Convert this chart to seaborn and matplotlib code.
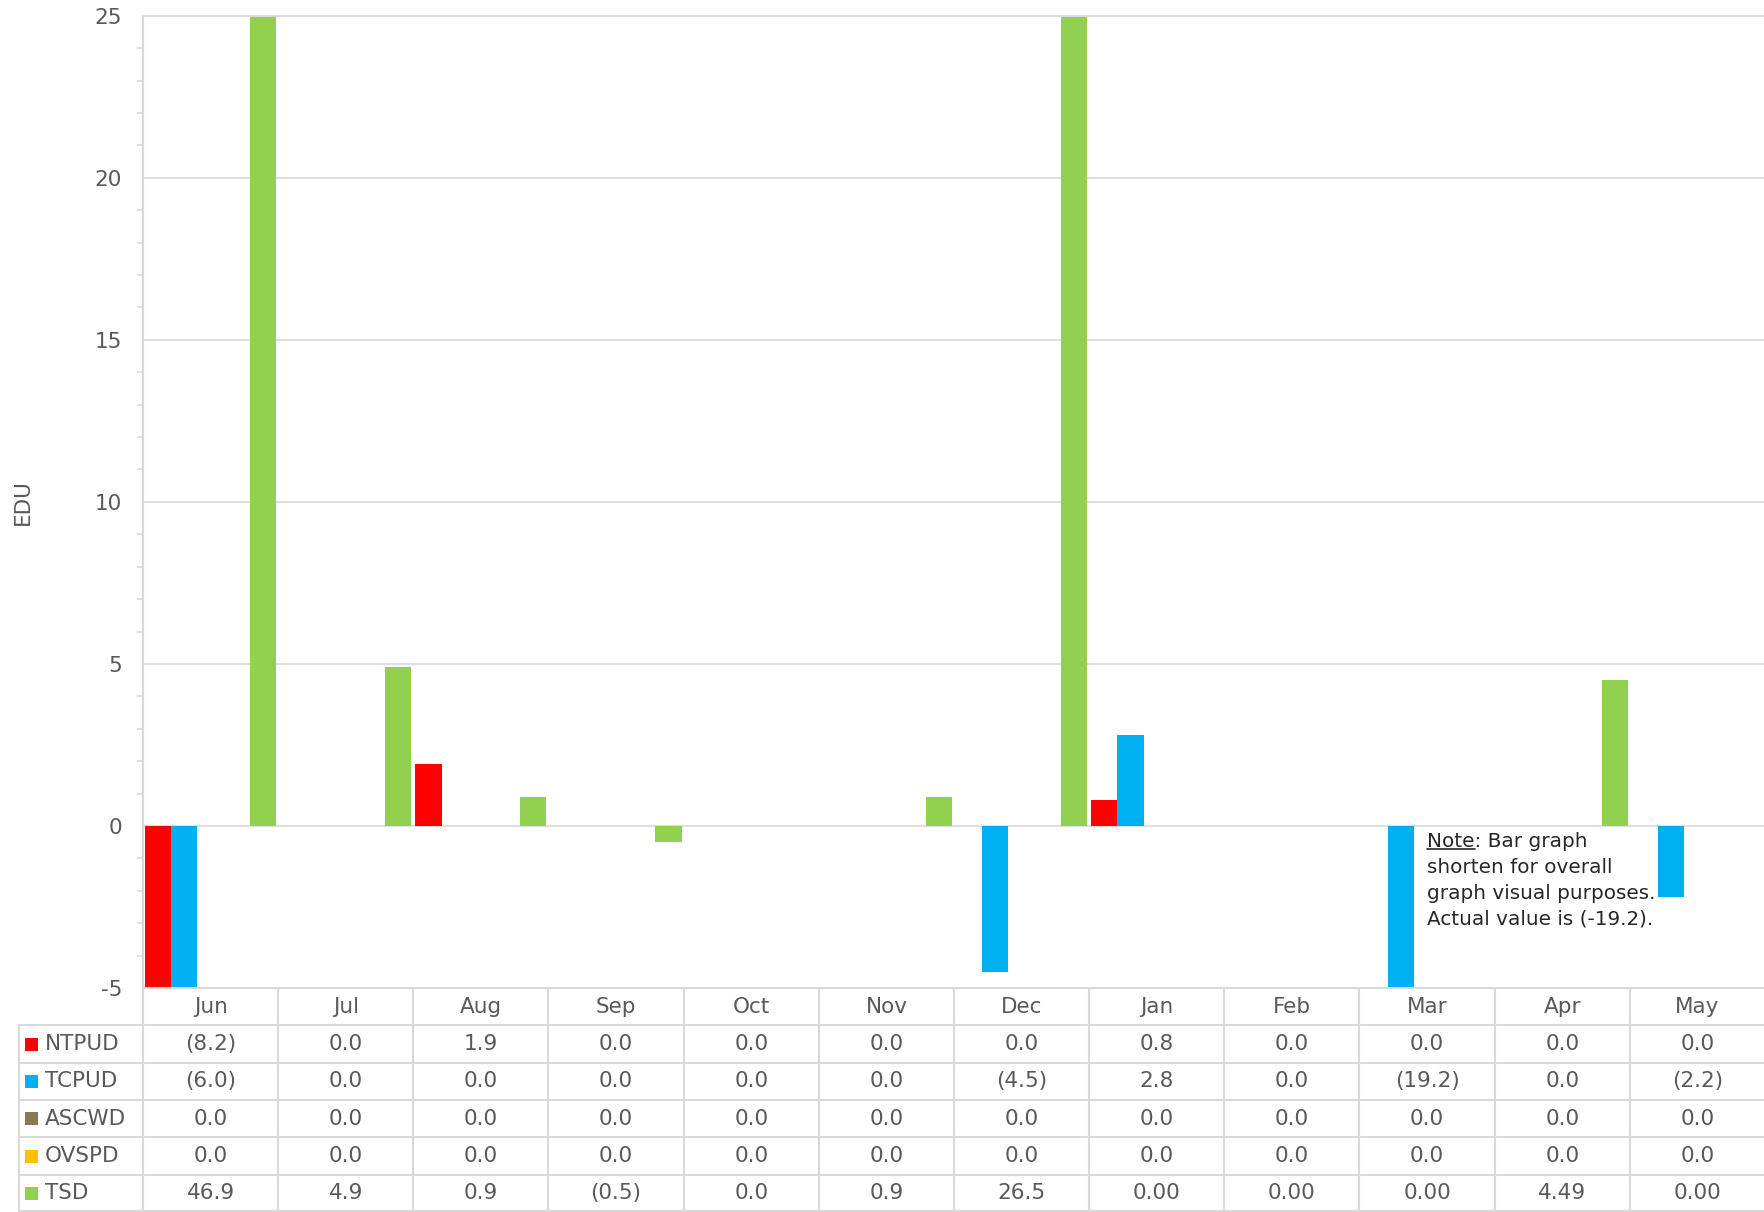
import numpy as np
import pandas as pd
import matplotlib
matplotlib.use("Agg")
import matplotlib.pyplot as plt
import seaborn as sns
from matplotlib.ticker import MultipleLocator
from matplotlib.patches import Rectangle

MONTHS = ["Jun", "Jul", "Aug", "Sep", "Oct", "Nov", "Dec", "Jan", "Feb", "Mar", "Apr", "May"]
SERIES = ["NTPUD", "TCPUD", "ASCWD", "OVSPD", "TSD"]
NTPUD = [-8.2, 0.0, 1.9, 0.0, 0.0, 0.0, 0.0, 0.8, 0.0, 0.0, 0.0, 0.0]
TCPUD = [-6.0, 0.0, 0.0, 0.0, 0.0, 0.0, -4.5, 2.8, 0.0, -19.2, 0.0, -2.2]
ASCWD = [0.0, 0.0, 0.0, 0.0, 0.0, 0.0, 0.0, 0.0, 0.0, 0.0, 0.0, 0.0]
OVSPD = [0.0, 0.0, 0.0, 0.0, 0.0, 0.0, 0.0, 0.0, 0.0, 0.0, 0.0, 0.0]
TSD = [46.9, 4.9, 0.9, -0.5, 0.0, 0.9, 26.5, 0.0, 0.0, 0.0, 4.49, 0.0]
TSD_DECIMALS = [1, 1, 1, 1, 1, 1, 1, 2, 2, 2, 2, 2]
COLORS = ["#FF0000", "#00B0F0", "#8C7853", "#FFC000", "#92D050"]
Y_TICKS = [-5, 0, 5, 10, 15, 20, 25]
NOTE_LINES = ["Note: Bar graph", "shorten for overall", "graph visual purposes.", "Actual value is (-19.2)."]

VALUES = {"NTPUD": NTPUD, "TCPUD": TCPUD, "ASCWD": ASCWD, "OVSPD": OVSPD, "TSD": TSD}
DECIMALS = {"NTPUD": [1] * 12, "TCPUD": [1] * 12, "ASCWD": [1] * 12, "OVSPD": [1] * 12, "TSD": TSD_DECIMALS}

rows = []
for s in SERIES:
    for m, v in zip(MONTHS, VALUES[s]):
        rows.append({"Month": m, "Series": s, "Value": v})
df = pd.DataFrame(rows)

sns.set_style("white")
plt.rcParams["font.family"] = ["DejaVu Sans"]
plt.rcParams["axes.unicode_minus"] = False

GRAY = "#D9D9D9"
TXT = "#595959"
W, H = 1765, 1212
fig = plt.figure(figsize=(W / 100, H / 100), dpi=100)

L, R, TOP, BOT = 143, 1765, 15.8, 988
ax = fig.add_axes([L / W, (H - BOT) / H, (R - L) / W, (BOT - TOP) / H])
sns.barplot(data=df, x="Month", y="Value", hue="Series", order=MONTHS, hue_order=SERIES,
            palette=COLORS, width=0.97, saturation=1, errorbar=None, legend=False,
            linewidth=0, ax=ax)
ax.set_xlim(-0.5, 11.5)
ax.set_ylim(-5, 25)
ax.set_yticks(Y_TICKS)
ax.yaxis.set_minor_locator(MultipleLocator(1))
ax.yaxis.grid(True, which="major", color=GRAY, lw=1.2)
ax.set_axisbelow(True)
ax.tick_params(axis="x", length=0, labelbottom=False)
ax.tick_params(axis="y", which="major", length=5, width=1.2, color=GRAY, labelsize=15.5,
               labelcolor=TXT, pad=10)
ax.tick_params(axis="y", which="minor", length=4, width=1.2, color=GRAY, left=True)
ax.set_xlabel("")
ax.set_ylabel("EDU", fontsize=15.5, color=TXT)
ax.yaxis.set_label_coords((33 - L) / (R - L), 0.5)
for side in ["left", "top", "bottom"]:
    ax.spines[side].set_color(GRAY)
    ax.spines[side].set_linewidth(1.5)
ax.spines["right"].set_visible(False)

# Note annotation
note_fs = 14.4
x_note, y_note = 9.0, -0.2
t = ax.text(x_note, y_note, "\n".join(NOTE_LINES), fontsize=note_fs, color="#262626",
            va="top", ha="left", linespacing=1.44, zorder=5)
tmp = ax.text(x_note, y_note, "Note", fontsize=note_fs, color="none", va="top", ha="left")
fig.canvas.draw()
bb = tmp.get_window_extent().transformed(ax.transData.inverted())
tmp.remove()
ybase = bb.y0 + (bb.y1 - bb.y0) * 0.15
ax.plot([bb.x0, bb.x1], [ybase, ybase], color="#262626", lw=1.2, clip_on=False)

# Data table
CW = (R - L) / 12.0
TL = 19
tax = fig.add_axes([TL / W, 0, (W - TL) / W, (H - BOT) / H])
xleft = -0.5 - (L - TL) / CW
tax.set_xlim(xleft, 11.5)
tax.set_ylim(6, 0)
tax.axis("off")
for r in range(1, 7):
    yy = r if r < 6 else 5.985
    tax.plot([xleft, 11.5], [yy, yy], color=GRAY, lw=1.5, clip_on=False)
for i in range(12):
    tax.plot([i - 0.5, i - 0.5], [0, 6], color=GRAY, lw=1.5, clip_on=False)
tax.plot([xleft, xleft], [1, 6], color=GRAY, lw=1.5, clip_on=False)

for i, m in enumerate(MONTHS):
    tax.text(i, 0.5, m, ha="center", va="center", fontsize=15.5, color=TXT)

sq_w = 13 / CW
sq_h = 13 / ((H - BOT) / 6.0)
for r, s in enumerate(SERIES, start=1):
    tax.add_patch(Rectangle((xleft + 6 / CW, r + 0.5 - sq_h / 2), sq_w, sq_h,
                            color=COLORS[r - 1], lw=0))
    tax.text(xleft + 26 / CW, r + 0.5, s, ha="left", va="center", fontsize=15.5, color=TXT)
    for i, (v, d) in enumerate(zip(VALUES[s], DECIMALS[s])):
        txt = f"{abs(v):.{d}f}"
        if v < 0:
            txt = f"({txt})"
        tax.text(i, r + 0.5, txt, ha="center", va="center", fontsize=15.5, color=TXT)

fig.savefig("out.png", dpi=100)
